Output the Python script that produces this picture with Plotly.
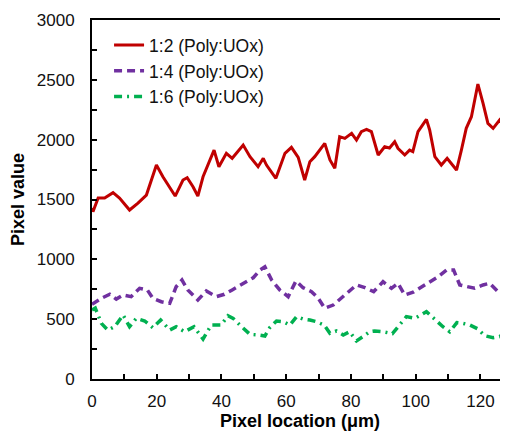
import plotly.graph_objects as go

# Red 1:2 (Poly:UOx)
x_red = [0, 0.3, 1.9, 3.9, 6.5, 8.5, 11.6, 14.2, 16.8, 18.3, 19.9, 21.9, 24.0, 25.7, 28.1, 29.4,
         31.2, 32.7, 34.3, 35.8, 37.7, 39.2, 41.5, 43.3, 46.7, 48.8, 51.3, 52.9, 53.9, 56.8,
         59.6, 61.6, 63.7, 65.7, 67.3, 68.8, 71.9, 73.5, 75.0, 76.5, 78.1, 80.2, 81.7, 83.2,
         84.8, 86.3, 88.4, 90.4, 91.9, 93.5, 94.5, 96.6, 98.1, 99.1, 100.7, 103.3, 104.3,
         105.9, 107.9, 109.7, 111.0, 112.6, 114.1, 115.6, 117.2, 119.2, 120.8, 122.3, 123.9,
         125.9, 127.0, 128.3]
y_red = [1430, 1398, 1512, 1512, 1557, 1512, 1412, 1470, 1537, 1663, 1788, 1690, 1607, 1529,
         1663, 1682, 1607, 1529, 1690, 1788, 1913, 1774, 1886, 1844, 1955, 1858, 1774, 1844,
         1788, 1677, 1886, 1936, 1852, 1663, 1816, 1858, 1969, 1830, 1761, 2025, 2011, 2053,
         1997, 2067, 2086, 2067, 1872, 1941, 1930, 1983, 1928, 1872, 1913, 1900, 2067, 2170,
         2081, 1858, 1788, 1844, 1802, 1746, 1913, 2095, 2192, 2465, 2303, 2136, 2095, 2164,
         2122, 2114]

# Purple 1:4 (Poly:UOx)
x_pur = [0, 2.9, 5.5, 7.5, 9.6, 12.1, 14.7, 17.1, 18.8, 21.4, 24.0, 26.0, 27.8, 29.6, 32.7,
         35.3, 38.4, 40.9, 43.3, 46.7, 49.8, 51.9, 53.4, 55.5, 58.0, 60.6, 63.0, 65.2, 67.8,
         69.9, 71.9, 74.5, 77.1, 79.6, 81.7, 84.3, 87.0, 89.9, 92.5, 94.5, 96.6, 99.2, 101.8,
         104.3, 106.9, 109.5, 111.7, 113.6, 115.6, 118.2, 120.8, 122.8, 125.4, 127.5, 128.5]
y_pur = [624, 674, 708, 668, 702, 688, 758, 744, 674, 646, 632, 771, 827, 744, 660, 735, 688,
         708, 744, 800, 846, 911, 938, 827, 744, 688, 819, 763, 730, 674, 591, 618, 680, 744,
         786, 763, 730, 813, 758, 800, 702, 725, 771, 813, 855, 911, 911, 786, 771, 758, 786,
         800, 730, 758, 750]

# Green 1:6 (Poly:UOx)
x_grn = [0, 1.0, 2.9, 4.9, 7.0, 9.6, 11.6, 13.7, 16.3, 18.8, 21.2, 24.0, 26.0, 28.6, 31.5,
         34.3, 36.8, 39.9, 42.0, 43.6, 46.2, 48.8, 51.3, 53.4, 54.9, 57.0, 59.1, 61.1, 63.2,
         65.2, 67.3, 69.3, 71.7, 73.5, 75.5, 77.6, 79.6, 81.7, 83.7, 85.8, 87.3, 89.9, 92.8,
         95.0, 97.1, 99.7, 101.8, 103.3, 105.9, 108.4, 110.5, 112.7, 114.6, 116.7, 119.2,
         121.3, 123.9, 125.9, 128.3]
y_grn = [577, 593, 465, 409, 437, 535, 437, 507, 485, 429, 493, 409, 437, 395, 437, 334, 451,
         451, 529, 507, 437, 373, 368, 359, 429, 485, 479, 451, 521, 501, 493, 479, 451, 382,
         401, 368, 395, 318, 354, 395, 401, 395, 379, 457, 521, 507, 535, 563, 499, 437, 395,
         471, 465, 451, 418, 362, 345, 354, 401]

names = ["1:2 (Poly:UOx)", "1:4 (Poly:UOx)", "1:6 (Poly:UOx)"]

fig = go.Figure()
fig.add_trace(go.Scatter(x=x_red, y=y_red, mode="lines", name=names[0], legendgroup="a",
                         line=dict(color="#C00000", width=3)))
fig.add_trace(go.Scatter(x=x_pur, y=y_pur, mode="lines", name=names[1], legendgroup="b",
                         line=dict(color="#7030A0", width=3.5, dash="8px,5px")))
fig.add_trace(go.Scatter(x=x_grn, y=y_grn, mode="lines", name=names[2], legendgroup="c",
                         line=dict(color="#00B050", width=3.5, dash="8px,5px,2px,5px")))

axis_font = dict(family="Liberation Sans, Arial", size=17, color="#111")
fig.update_layout(
    width=508, height=435,
    margin=dict(l=84, r=8, t=12, b=64),
    paper_bgcolor="white", plot_bgcolor="white",
    showlegend=True,
    legend=dict(x=0.041, y=0.980, xanchor="left", yanchor="top",
                bgcolor="rgba(0,0,0,0)", font=dict(family="Liberation Sans, Arial", size=17.5, color="#111"),
                traceorder="grouped", tracegroupgap=0),
    xaxis=dict(range=[0, 128.5], tick0=0, dtick=20, ticks="inside", ticklen=5, tickwidth=1.5,
               tickcolor="black", showline=True, linecolor="black", linewidth=2, mirror=True,
               showgrid=False, zeroline=False, tickfont=axis_font, ticklabelstandoff=6,
               automargin=False,
               minor=dict(dtick=10, ticks="inside", ticklen=5, tickwidth=1.5, tickcolor="black"),
               title=dict(text="<b>Pixel location (μm)</b>", font=dict(family="Liberation Sans, Arial", size=18, color="black"),
                          standoff=4)),
    yaxis=dict(range=[0, 3000], tick0=0, dtick=500, ticks="inside", ticklen=5, tickwidth=1.5,
               tickcolor="black", showline=True, linecolor="black", linewidth=2, mirror=False,
               showgrid=False, zeroline=False, tickfont=axis_font, ticklabelstandoff=12,
               automargin=False,
               minor=dict(dtick=250, ticks="inside", ticklen=5, tickwidth=1.5, tickcolor="black"),
               title=dict(text="<b>Pixel value</b>", font=dict(family="Liberation Sans, Arial", size=18, color="black"),
                          standoff=14)),
)

fig.write_html("out.html")
